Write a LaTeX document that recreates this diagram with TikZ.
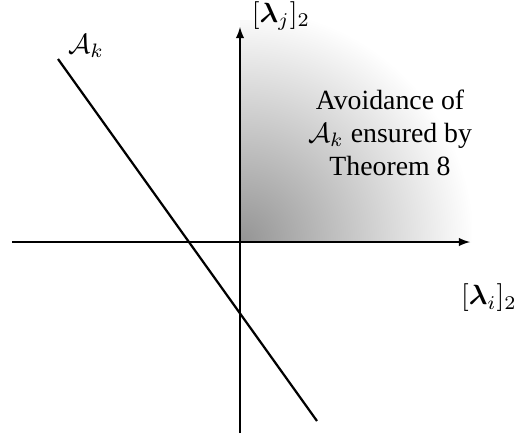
\documentclass[tikz,border=0pt]{standalone}
\usepackage{amsmath, amssymb}
\usepackage{fontspec}
\setmainfont{Liberation Serif}
\usepackage{tikz}
\usetikzlibrary{arrows, positioning}
\pgfdeclareradialshading{quarterfade}{\pgfpoint{0bp}{0bp}}{%
  color(0bp)=(black!42); color(84bp)=(white); color(120bp)=(white)}

\begin{document}
\begin{tikzpicture}[x=0.36pt, y=-0.36pt, >=latex]
\useasboundingbox (0,0) rectangle (526,441);
\coordinate (o) at (240,242);
\coordinate (xl) at (12,242);
\coordinate (xr) at (470,242);
\coordinate (yb) at (240,433);
\coordinate (yt) at (240,27);
\coordinate (la) at (58,59);
\coordinate (lb) at (317,421);
% shaded region
\begin{scope}
  \clip (o) rectangle (472,20);
  \node[inner sep=0pt] (fade) at (o) {\pgfuseshading{quarterfade}};
\end{scope}
\draw[->, thin] (xl) -- (xr);
\draw[->, thin] (yb) -- (yt);
\draw[line width=0.8pt] (la) -- (lb);
\node (lami) at (489,298) {$[\boldsymbol{\lambda}_i]_2$};
\node (lamj) at (281,16) {$[\boldsymbol{\lambda}_j]_2$};
\node (ak) at (86,46) {$\mathcal{A}_k$};
\node[align=center, inner sep=0pt] (avoid) at (390,133) {Avoidance of\\ $\mathcal{A}_k$ ensured by\\ Theorem 8};
\end{tikzpicture}
\end{document}
